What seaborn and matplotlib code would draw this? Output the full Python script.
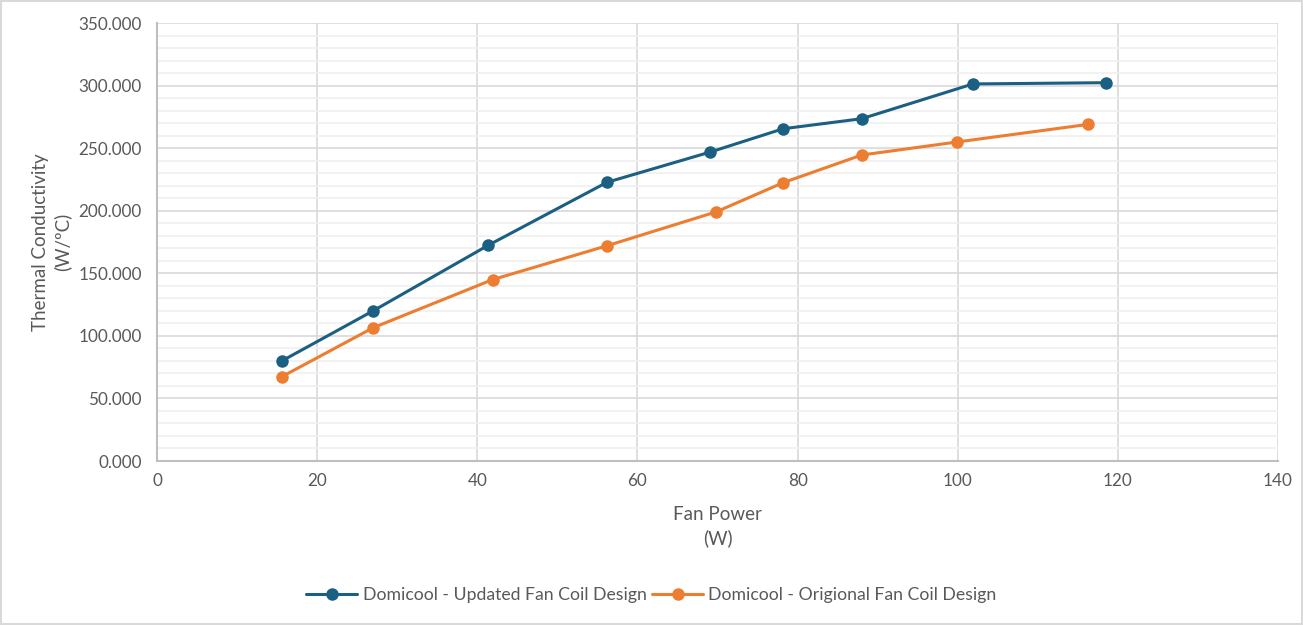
import matplotlib
matplotlib.use("Agg")
import matplotlib.pyplot as plt
import seaborn as sns
import pandas as pd
from matplotlib.ticker import MultipleLocator, FormatStrFormatter

# values
updated_power = [15.6, 27.0, 41.4, 56.2, 69.1, 78.2, 88.0, 101.9, 118.5]
updated_k = [80.0, 120.0, 172.5, 222.7, 246.9, 265.5, 273.5, 301.3, 302.3]
original_power = [15.6, 27.0, 41.9, 56.2, 69.8, 78.2, 88.0, 99.9, 116.3]
original_k = [67.4, 106.5, 144.9, 172.0, 199.0, 222.4, 244.5, 254.9, 269.0]

updated_name = "Domicool - Updated Fan Coil Design"
original_name = "Domicool - Origional Fan Coil Design"

df = pd.concat([
    pd.DataFrame({"power": updated_power, "k": updated_k, "series": updated_name}),
    pd.DataFrame({"power": original_power, "k": original_k, "series": original_name}),
])

sns.set_theme(style="white")
plt.rcParams["font.family"] = ["Lato", "DejaVu Sans"]
text_col = "#595959"

fig = plt.figure(figsize=(13.03, 6.25), dpi=100)
ax = fig.add_axes([0.1205, 0.2624, 0.8603, 0.7008])

sns.lineplot(data=df, x="power", y="k", hue="series", sort=False,
             palette=["#1B5F83", "#ED7D31"], marker="o", markersize=9,
             markeredgewidth=0, linewidth=2.2, ax=ax, zorder=3)

ax.set_xlim(0, 140)
ax.set_ylim(0, 350)
ax.xaxis.set_major_locator(MultipleLocator(20))
ax.yaxis.set_major_locator(MultipleLocator(50))
ax.yaxis.set_minor_locator(MultipleLocator(10))
ax.yaxis.set_major_formatter(FormatStrFormatter("%.3f"))

ax.grid(which="major", color="#D9D9D9", linewidth=1.2)
ax.grid(which="minor", axis="y", color="#F0F0F0", linewidth=1.2)
ax.set_axisbelow(True)
for s in ["top", "right"]:
    ax.spines[s].set_visible(False)
for s in ["left", "bottom"]:
    ax.spines[s].set_color("#BFBFBF")
    ax.spines[s].set_linewidth(1.5)

ax.tick_params(axis="both", which="both", length=0, labelsize=12.3,
               labelcolor=text_col)
ax.tick_params(axis="x", pad=9)
ax.tick_params(axis="y", pad=11)

ax.set_xlabel("Fan Power\n(W)", fontsize=13.5, color=text_col, labelpad=12,
              linespacing=1.4)
ax.set_ylabel("Thermal Conductivity\n(W/ºC)", fontsize=13.5, color=text_col,
              labelpad=5, linespacing=1.3)

handles, labels = ax.get_legend_handles_labels()
ax.get_legend().remove()
fig.legend(handles, labels, loc="center", bbox_to_anchor=(0.5, 0.048),
           ncol=2, frameon=False, fontsize=12.7, labelcolor=text_col,
           handlelength=2.9, handletextpad=0.3, columnspacing=0.3)

fig.patches.append(plt.Rectangle((0.001, 0.002), 0.998, 0.996,
                                 transform=fig.transFigure, fill=False,
                                 edgecolor="#D9D9D9", linewidth=1.5))

fig.savefig("out.png", dpi=100)
